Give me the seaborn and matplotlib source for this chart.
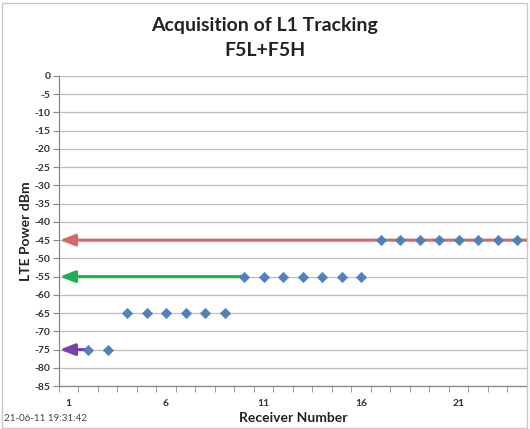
import numpy as np
import pandas as pd
import matplotlib
matplotlib.use('Agg')
import matplotlib.pyplot as plt
import seaborn as sns

# receiver number vs LTE power at which L1 tracking was acquired
receivers = list(range(2, 25))
power = [-75, -75,
         -65, -65, -65, -65, -65, -65,
         -55, -55, -55, -55, -55, -55, -55,
         -45, -45, -45, -45, -45, -45, -45, -45]

# arrows: level, starting receiver, colour
arrow_levels = [-45, -55, -75]
arrow_starts = [24.5, 10, 2]
arrow_colors = ['#D46A66', '#1FAF5A', '#7B3FA8']

xtick_labels = [1, 6, 11, 16, 21]
ytick_values = list(range(0, -90, -5))

df = pd.DataFrame({'Receiver': receivers, 'Power': power})

sns.set_style('white')
plt.rcParams['font.family'] = ['Lato', 'DejaVu Sans']

fig = plt.figure(figsize=(5.30, 4.29), dpi=100)
ax = fig.add_axes([0.111, 0.100, 0.883, 0.723])

ax.set_xlim(0.5, 24.5)
ax.set_ylim(-85, 0)

# gridlines
for v in ytick_values:
    ax.axhline(v, color='#BDBDBD', lw=0.9, zorder=0)

for lvl, start, col in zip(arrow_levels, arrow_starts, arrow_colors):
    ax.annotate('', xy=(0.55, lvl), xytext=(start, lvl),
                arrowprops=dict(arrowstyle='-|>,head_length=0.9,head_width=0.35',
                                color=col, lw=2.2, shrinkA=0, shrinkB=0),
                zorder=2)

sns.scatterplot(data=df, x='Receiver', y='Power', marker='D', s=28,
                color='#4F81BD', edgecolor='#4F81BD', ax=ax, zorder=3)

ax.set_yticks(ytick_values)
ax.set_yticklabels([str(v) for v in ytick_values], fontsize=7.5, fontweight='bold',
                   color='#333333')
ax.set_xticks(xtick_labels)
ax.set_xticklabels([str(v) for v in xtick_labels], fontsize=7.5, fontweight='bold',
                   color='#333333')
ax.set_xticks(np.arange(0.5, 25, 1), minor=True)
ax.tick_params(axis='x', which='major', length=0, pad=9)
ax.tick_params(axis='x', which='minor', length=4, color='#888888', direction='out')
ax.tick_params(axis='y', length=4, color='#888888', direction='out', pad=2)
ax.tick_params(left=True, bottom=True, which='both')

for s in ['top', 'right']:
    ax.spines[s].set_visible(False)
for s in ['left', 'bottom']:
    ax.spines[s].set_color('#888888')
    ax.spines[s].set_linewidth(0.9)

ax.set_xlabel('Receiver Number', fontsize=10, fontweight='bold', color='#222222',
              labelpad=3)
ax.set_ylabel('LTE Power dBm', fontsize=10, fontweight='bold', color='#222222',
              labelpad=2)

fig.text(0.5, 0.94, 'Acquisition of L1 Tracking', ha='center', va='center',
         fontsize=14, fontweight='bold', color='#222222')
fig.text(0.5, 0.883, 'F5L+F5H', ha='center', va='center',
         fontsize=14, fontweight='bold', color='#222222')
fig.text(0.008, 0.025, '21-06-11 19:31:42', ha='left', va='center',
         fontsize=7, color='#444444')

# chart border
fig.add_artist(plt.Rectangle((0.004, 0.003), 0.99, 0.99, transform=fig.transFigure,
                             fill=False, edgecolor='#C8C8C8', lw=1))

fig.savefig('out.png', dpi=100)
